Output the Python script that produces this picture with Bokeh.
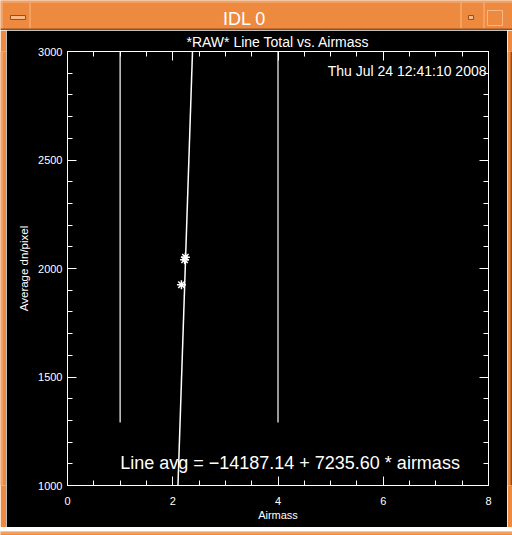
from bokeh.plotting import figure
from bokeh.models import Label, LinearAxis, SingleIntervalTicker, Range1d, CustomJSTickFormatter
from bokeh.layouts import column, row
from bokeh.embed import file_html
from bokeh.resources import INLINE
from bokeh.core.properties import value

# ---------------- data ----------------
window_title = "IDL 0"
plot_title = "*RAW* Line Total vs. Airmass"
timestamp = "Thu Jul 24 12:41:10 2008"
x_label = "Airmass"
y_label = "Average dn/pixel"

airmass = [2.225, 2.240, 2.165]
line_avg = [2040, 2052, 1925]

fit_intercept = -14187.14
fit_slope = 7235.60

marker_x = [1.0, 4.0]
marker_y0 = [1290, 1290]
marker_y1 = [3000, 3000]

x_start, x_end = 0, 8
y_start, y_end = 1000, 3000
x_major, x_minor = 2, 4
y_major, y_minor = 500, 5

# ---------------- styles ----------------
ORANGE = "#EE8A40"
LIGHT = "#F8B886"
DARK = "#9A4E1A"
FONT = "Liberation Sans"


def blank(w, h, xr=(0, 1), yr=(0, 1)):
    f = figure(width=w, height=h, x_range=Range1d(*xr), y_range=Range1d(*yr),
               toolbar_location=None, output_backend="svg",
               background_fill_color=ORANGE, border_fill_color=ORANGE,
               outline_line_color=None, min_border=0)
    f.axis.visible = False
    f.grid.visible = False
    return f


# ---------------- window title bar ----------------
bar = blank(512, 30, (0, 512), (0, 30))
bar.text(x=[244], y=[11.5], text=[window_title], text_align="center", text_baseline="middle",
         text_color="white", text_font_size="18px", text_font=value(FONT))
bar.segment(x0=[29.5, 460.5, 483.5], y0=[2, 2, 2], x1=[29.5, 460.5, 483.5], y1=[28, 28, 28],
            line_color=LIGHT, line_width=1)
bar.segment(x0=[0, 1.5], y0=[28.5, 0], x1=[512, 1.5], y1=[28.5, 30], line_color=LIGHT, line_width=1)
bar.segment(x0=[0], y0=[1], x1=[512], y1=[1], line_color=DARK, line_width=2)
bar.quad(left=[10], right=[25], bottom=[11], top=[15], fill_color=LIGHT, line_color=DARK)
bar.quad(left=[468], right=[473], bottom=[11], top=[15], fill_color=LIGHT, line_color=DARK)
bar.quad(left=[487], right=[502], bottom=[5], top=[20], fill_color=None, line_color=LIGHT)

left_pad = blank(6, 497, (0, 6), (0, 1))
left_pad.segment(x0=[1.5], y0=[0], x1=[1.5], y1=[1], line_color=LIGHT, line_width=1)
right_pad = blank(5, 497, (0, 5), (0, 1))
right_pad.segment(x0=[4], y0=[0], x1=[4], y1=[1], line_color=DARK, line_width=2)
bottom_pad = blank(512, 8, (0, 512), (0, 8))
bottom_pad.segment(x0=[0], y0=[1], x1=[512], y1=[1], line_color=DARK, line_width=2)
bottom_pad.segment(x0=[0], y0=[6.5], x1=[512], y1=[6.5], line_color=LIGHT, line_width=1)

# ---------------- main plot ----------------
p = figure(width=501, height=497,
           x_range=Range1d(x_start, x_end), y_range=Range1d(y_start, y_end),
           output_backend="svg", toolbar_location=None,
           background_fill_color="black", border_fill_color="black",
           outline_line_color="white", outline_line_width=1,
           min_border_left=61, min_border_right=19, min_border_top=18, min_border_bottom=42)
p.grid.visible = False

p.title.text = plot_title
p.title.align = "center"
p.title.text_color = "white"
p.title.text_font = FONT
p.title.text_font_size = "14px"
p.title.text_font_style = "normal"
p.title.standoff = 3


def style_axis(ax, show_labels):
    ax.axis_line_color = "white"
    ax.major_tick_line_color = "white"
    ax.minor_tick_line_color = "white"
    ax.major_tick_in = 9
    ax.major_tick_out = 0
    ax.minor_tick_in = 5
    ax.minor_tick_out = 0
    ax.major_label_text_color = "white"
    ax.major_label_text_font = FONT
    ax.major_label_text_font_size = "11px"
    ax.axis_label_text_color = "white"
    ax.axis_label_text_font = FONT
    ax.axis_label_text_font_style = "normal"
    ax.axis_label_text_font_size = "11px"
    if not show_labels:
        ax.formatter = CustomJSTickFormatter(code="return ''")
        ax.major_label_standoff = 0


xa = p.xaxis[0]
xa.ticker = SingleIntervalTicker(interval=x_major, num_minor_ticks=x_minor)
style_axis(xa, True)
xa.major_label_standoff = 11
xa.axis_label = x_label
xa.axis_label_standoff = 1

ya = p.yaxis[0]
ya.ticker = SingleIntervalTicker(interval=y_major, num_minor_ticks=y_minor)
style_axis(ya, True)
ya.major_label_standoff = 5
ya.axis_label = y_label
ya.axis_label_standoff = 5
ya.axis_label_text_font_size = "11.5px"

top_ax = LinearAxis(ticker=SingleIntervalTicker(interval=x_major, num_minor_ticks=x_minor))
style_axis(top_ax, False)
p.add_layout(top_ax, "above")

right_ax = LinearAxis(ticker=SingleIntervalTicker(interval=y_major, num_minor_ticks=y_minor))
style_axis(right_ax, False)
p.add_layout(right_ax, "right")

# reference vertical lines
p.segment(x0=marker_x, y0=marker_y0, x1=marker_x, y1=marker_y1, line_color="white", line_width=1.2)

# fitted line
fit_y = [y_start, y_end]
fit_x = [(yy - fit_intercept) / fit_slope for yy in fit_y]
p.line(fit_x, fit_y, line_color="white", line_width=1.5)

# data points
p.scatter(airmass, line_avg, marker="asterisk", size=9, line_color="white", line_width=1.5)

# texts
p.add_layout(Label(x=x_end, y=y_end, x_offset=-2, y_offset=-19, text=timestamp,
                   text_align="right", text_baseline="middle", text_color="white",
                   text_font_size="14px", text_font=FONT))
eq = "Line avg = \u2212%.2f + %.2f * airmass" % (abs(fit_intercept), fit_slope)
p.add_layout(Label(x=1, y=y_start, y_offset=23, text=eq,
                   text_align="left", text_baseline="middle", text_color="white",
                   text_font_size="18px", text_font=FONT))

layout = column(bar, row(left_pad, p, right_pad, spacing=0), bottom_pad, spacing=0)
open("out.html", "w").write(file_html(layout, INLINE))
